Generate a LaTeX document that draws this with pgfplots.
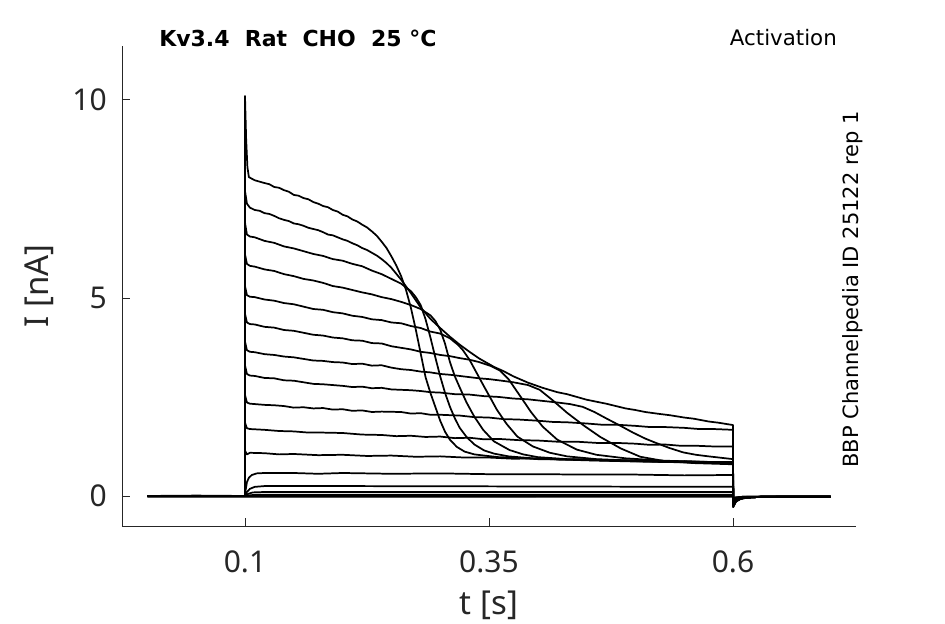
\documentclass[border=0pt]{standalone}
\usepackage{fontspec}
\setmainfont{Noto Sans}
\newfontfamily\dejavu{DejaVu Sans}
\usepackage{pgfplots}
\pgfplotsset{compat=1.18}
\definecolor{axgray}{HTML}{262626}
\pgfplotsset{tr/.style={draw=black, solid, line width=1.3pt, line join=round, mark=none}}
\begin{document}
\begin{tikzpicture}
\useasboundingbox (-91.5pt,-73.5pt) rectangle (617.25pt,394.5pt);
\begin{axis}[
 at={(0,0)}, anchor=south west,
 scale only axis, width=550.5pt, height=360pt,
 xmin=-0.026, xmax=0.726, ymin=-0.758, ymax=11.36,
 axis x line*=bottom, axis y line*=left,
 axis line style={-, draw=axgray, line width=0.6pt},
 xtick={0.1,0.35,0.6}, ytick={0,5,10},
 xticklabels={0.1,0.35,0.6}, yticklabels={0,5,10},
 tick align=inside, major tick length=6pt,
 tick style={draw=axgray, line width=0.6pt},
 /pgf/number format/assume math mode=true,
 ticklabel style={font=\fontsize{22.5}{27}\selectfont, text=axgray, inner sep=0pt},
 xticklabel style={anchor=base, yshift=-34.5pt},
 yticklabel style={anchor=east, xshift=-11.25pt},
]
% T1
\addplot[tr] coordinates {(0,0) (0.05,0.01) (0.0999,0) (0.1,10.1) (0.1012,9.0) (0.1025,8.3) (0.104,8.05) (0.11,7.97) (0.12,7.9) (0.125,7.87) (0.13,7.8) (0.135,7.78) (0.14,7.72) (0.145,7.68) (0.15,7.6) (0.155,7.58) (0.16,7.52) (0.165,7.49) (0.17,7.42) (0.175,7.38) (0.18,7.32) (0.185,7.29) (0.19,7.22) (0.195,7.18) (0.2,7.1) (0.205,7.06) (0.21,6.98) (0.215,6.93) (0.22,6.85) (0.225,6.78) (0.23,6.68) (0.235,6.57) (0.24,6.42) (0.245,6.26) (0.25,6.05) (0.255,5.82) (0.26,5.55) (0.265,5.2) (0.27,4.75) (0.275,4.2) (0.28,3.6) (0.285,3.0) (0.29,2.6) (0.295,2.25) (0.30,1.9) (0.305,1.62) (0.31,1.42) (0.317,1.24) (0.325,1.12) (0.335,1.05) (0.345,1.02) (0.36,0.98) (0.38,0.96) (0.4,0.93) (0.43,0.92) (0.46,0.9) (0.5,0.88) (0.55,0.86) (0.6,0.85) (0.6002,-0.28) (0.603,-0.14) (0.608,-0.07) (0.615,-0.04) (0.63,-0.02) (0.7,-0.02)};
% T2
\addplot[tr] coordinates {(0,0) (0.0999,0) (0.1,7.7) (0.102,7.38) (0.105,7.28) (0.11,7.22) (0.115,7.2) (0.12,7.14) (0.125,7.12) (0.13,7.07) (0.135,7.01) (0.14,6.97) (0.145,6.94) (0.15,6.88) (0.155,6.86) (0.16,6.82) (0.165,6.77) (0.17,6.74) (0.175,6.71) (0.18,6.66) (0.185,6.6) (0.19,6.58) (0.195,6.53) (0.2,6.48) (0.205,6.44) (0.21,6.38) (0.215,6.33) (0.22,6.26) (0.225,6.21) (0.23,6.14) (0.235,6.07) (0.24,5.98) (0.245,5.88) (0.25,5.76) (0.26,5.46) (0.27,5.12) (0.28,4.76) (0.29,4.47) (0.30,4.24) (0.31,4.02) (0.32,3.82) (0.33,3.64) (0.34,3.47) (0.355,3.26) (0.365,3.15) (0.375,3.02) (0.39,2.86) (0.405,2.73) (0.42,2.62) (0.43,2.57) (0.44,2.5) (0.45,2.43) (0.46,2.38) (0.47,2.33) (0.48,2.27) (0.49,2.21) (0.5,2.17) (0.51,2.12) (0.525,2.07) (0.535,2.04) (0.55,1.98) (0.56,1.95) (0.575,1.88) (0.585,1.85) (0.6,1.79) (0.6002,-0.28) (0.603,-0.14) (0.608,-0.07) (0.615,-0.04) (0.63,-0.02) (0.7,-0.02)};
% T3
\addplot[tr] coordinates {(0,0) (0.0999,0) (0.1,6.9) (0.102,6.6) (0.105,6.55) (0.11,6.53) (0.12,6.44) (0.13,6.39) (0.14,6.3) (0.15,6.25) (0.16,6.18) (0.17,6.11) (0.18,6.06) (0.19,5.98) (0.2,5.94) (0.21,5.86) (0.22,5.8) (0.23,5.69) (0.24,5.6) (0.25,5.48) (0.26,5.36) (0.27,5.17) (0.275,5.02) (0.28,4.82) (0.285,4.46) (0.29,4.0) (0.295,3.5) (0.3,3.02) (0.305,2.6) (0.31,2.25) (0.315,1.96) (0.32,1.72) (0.327,1.49) (0.335,1.3) (0.345,1.15) (0.355,1.07) (0.37,1.0) (0.4,0.94) (0.45,0.9) (0.5,0.87) (0.55,0.85) (0.6,0.83) (0.6002,-0.26) (0.603,-0.13) (0.608,-0.07) (0.615,-0.04) (0.63,-0.02) (0.7,-0.02)};
% T4
\addplot[tr] coordinates {(0,0) (0.0999,0) (0.1,6.1) (0.102,5.86) (0.105,5.81) (0.11,5.79) (0.12,5.72) (0.13,5.68) (0.14,5.6) (0.15,5.55) (0.16,5.48) (0.17,5.44) (0.18,5.38) (0.19,5.3) (0.2,5.26) (0.21,5.2) (0.22,5.14) (0.23,5.09) (0.24,5.02) (0.25,4.97) (0.26,4.9) (0.27,4.82) (0.28,4.72) (0.29,4.56) (0.295,4.42) (0.3,4.2) (0.305,3.84) (0.31,3.38) (0.315,3.02) (0.32,2.74) (0.327,2.36) (0.335,2.0) (0.344,1.67) (0.355,1.38) (0.371,1.16) (0.385,1.05) (0.4,0.98) (0.43,0.93) (0.47,0.9) (0.52,0.87) (0.6,0.83) (0.6002,-0.25) (0.603,-0.13) (0.608,-0.07) (0.615,-0.04) (0.63,-0.02) (0.7,-0.02)};
% T5
\addplot[tr] coordinates {(0,0) (0.0999,0) (0.1,5.3) (0.102,5.07) (0.105,5.03) (0.11,5.02) (0.12,4.96) (0.13,4.93) (0.14,4.87) (0.15,4.84) (0.16,4.78) (0.17,4.72) (0.18,4.7) (0.19,4.64) (0.2,4.61) (0.21,4.55) (0.22,4.52) (0.23,4.46) (0.24,4.44) (0.25,4.38) (0.26,4.36) (0.27,4.29) (0.28,4.24) (0.29,4.15) (0.3,4.1) (0.31,3.98) (0.318,3.82) (0.323,3.69) (0.33,3.44) (0.3375,3.1) (0.345,2.76) (0.352,2.45) (0.358,2.18) (0.368,1.82) (0.379,1.5) (0.395,1.25) (0.4125,1.09) (0.43,1.0) (0.46,0.93) (0.5,0.89) (0.55,0.86) (0.6,0.84) (0.6002,-0.25) (0.603,-0.12) (0.608,-0.06) (0.615,-0.04) (0.63,-0.02) (0.7,-0.02)};
% T6
\addplot[tr] coordinates {(0,0) (0.0999,0) (0.1,4.6) (0.102,4.38) (0.105,4.34) (0.11,4.33) (0.12,4.27) (0.13,4.25) (0.14,4.19) (0.15,4.17) (0.16,4.12) (0.17,4.07) (0.18,4.05) (0.19,4.0) (0.2,3.98) (0.21,3.93) (0.22,3.92) (0.23,3.86) (0.24,3.85) (0.25,3.78) (0.26,3.74) (0.27,3.7) (0.28,3.64) (0.29,3.61) (0.3,3.56) (0.31,3.53) (0.32,3.48) (0.33,3.44) (0.34,3.38) (0.352,3.28) (0.361,3.17) (0.37,2.95) (0.382,2.52) (0.393,2.12) (0.405,1.75) (0.42,1.42) (0.44,1.17) (0.46,1.04) (0.49,0.95) (0.53,0.89) (0.6,0.84) (0.6002,-0.24) (0.603,-0.12) (0.608,-0.06) (0.615,-0.04) (0.63,-0.02) (0.7,-0.02)};
% T7
\addplot[tr] coordinates {(0,0) (0.0999,0) (0.1,3.9) (0.102,3.68) (0.105,3.64) (0.11,3.63) (0.12,3.58) (0.13,3.56) (0.14,3.52) (0.15,3.5) (0.16,3.46) (0.17,3.42) (0.18,3.41) (0.19,3.38) (0.2,3.37) (0.21,3.33) (0.22,3.34) (0.23,3.29) (0.24,3.3) (0.25,3.24) (0.26,3.2) (0.27,3.18) (0.28,3.14) (0.29,3.12) (0.3,3.08) (0.31,3.06) (0.32,3.03) (0.33,3.0) (0.34,2.97) (0.35,2.95) (0.36,2.92) (0.375,2.87) (0.39,2.8) (0.402,2.68) (0.415,2.42) (0.43,2.1) (0.447,1.78) (0.464,1.49) (0.485,1.2) (0.505,0.99) (0.53,0.88) (0.56,0.83) (0.6,0.8) (0.6002,-0.24) (0.603,-0.12) (0.608,-0.06) (0.615,-0.04) (0.63,-0.02) (0.7,-0.02)};
% T8
\addplot[tr] coordinates {(0,0) (0.0999,0) (0.1,3.3) (0.102,3.08) (0.105,3.04) (0.11,3.03) (0.12,2.98) (0.13,2.97) (0.14,2.92) (0.15,2.91) (0.16,2.87) (0.17,2.83) (0.18,2.82) (0.19,2.8) (0.2,2.78) (0.21,2.75) (0.22,2.76) (0.23,2.72) (0.24,2.73) (0.25,2.69) (0.26,2.68) (0.27,2.67) (0.28,2.65) (0.29,2.62) (0.3,2.61) (0.315,2.57) (0.33,2.56) (0.345,2.52) (0.36,2.5) (0.375,2.46) (0.39,2.44) (0.405,2.4) (0.42,2.36) (0.433,2.32) (0.446,2.25) (0.458,2.12) (0.47,1.96) (0.484,1.78) (0.4975,1.6) (0.51,1.45) (0.52,1.35) (0.535,1.21) (0.549,1.1) (0.562,1.04) (0.575,1.0) (0.6,0.93) (0.6002,-0.23) (0.603,-0.12) (0.608,-0.06) (0.615,-0.04) (0.63,-0.02) (0.7,-0.02)};
% T9
\addplot[tr] coordinates {(0,0) (0.0999,0) (0.1,2.55) (0.102,2.36) (0.105,2.33) (0.12,2.3) (0.13,2.29) (0.14,2.27) (0.15,2.23) (0.16,2.24) (0.17,2.21) (0.18,2.22) (0.19,2.18) (0.2,2.19) (0.21,2.15) (0.22,2.16) (0.23,2.12) (0.24,2.13) (0.26,2.12) (0.27,2.08) (0.28,2.09) (0.29,2.05) (0.3,2.05) (0.32,2.03) (0.335,1.99) (0.35,1.98) (0.365,1.94) (0.38,1.93) (0.4,1.9) (0.415,1.87) (0.43,1.86) (0.45,1.83) (0.465,1.8) (0.48,1.8) (0.5,1.77) (0.515,1.74) (0.53,1.74) (0.55,1.72) (0.565,1.69) (0.58,1.69) (0.6,1.67) (0.6002,-0.22) (0.603,-0.11) (0.608,-0.06) (0.615,-0.04) (0.63,-0.02) (0.7,-0.02)};
% T10
\addplot[tr] coordinates {(0,0) (0.0999,0) (0.1,1.85) (0.102,1.71) (0.105,1.69) (0.12,1.67) (0.135,1.64) (0.15,1.63) (0.165,1.6) (0.18,1.6) (0.2,1.59) (0.22,1.55) (0.24,1.54) (0.255,1.51) (0.27,1.52) (0.285,1.49) (0.3,1.5) (0.315,1.46) (0.33,1.47) (0.345,1.43) (0.36,1.44) (0.38,1.41) (0.4,1.4) (0.42,1.37) (0.44,1.37) (0.46,1.34) (0.48,1.34) (0.5,1.32) (0.515,1.29) (0.53,1.3) (0.545,1.27) (0.56,1.27) (0.58,1.25) (0.6,1.25) (0.6002,-0.2) (0.603,-0.1) (0.608,-0.05) (0.615,-0.03) (0.63,-0.02) (0.7,-0.02)};
% T11
\addplot[tr] coordinates {(0,0) (0.0999,0) (0.1,1.15) (0.102,1.05) (0.105,1.09) (0.12,1.08) (0.135,1.05) (0.15,1.06) (0.175,1.03) (0.2,1.04) (0.225,1.01) (0.25,1.02) (0.275,0.99) (0.3,1.0) (0.325,0.97) (0.35,0.97) (0.375,0.94) (0.4,0.95) (0.425,0.92) (0.45,0.93) (0.475,0.9) (0.5,0.9) (0.525,0.87) (0.55,0.88) (0.575,0.86) (0.6,0.86) (0.6002,-0.18) (0.603,-0.09) (0.608,-0.05) (0.615,-0.03) (0.63,-0.02) (0.7,-0.02)};
% T12
\addplot[tr] coordinates {(0,0) (0.0999,0) (0.1,0.05) (0.101,0.2) (0.102,0.35) (0.104,0.46) (0.107,0.53) (0.112,0.57) (0.12,0.58) (0.15,0.58) (0.175,0.56) (0.2,0.58) (0.25,0.56) (0.3,0.57) (0.35,0.55) (0.4,0.55) (0.45,0.54) (0.5,0.54) (0.55,0.52) (0.6,0.53) (0.6002,-0.15) (0.603,-0.08) (0.608,-0.04) (0.615,-0.03) (0.63,-0.02) (0.7,-0.02)};
% T13
\addplot[tr] coordinates {(0,0) (0.0999,0) (0.1,0.02) (0.102,0.1) (0.105,0.18) (0.11,0.23) (0.12,0.25) (0.2,0.25) (0.4,0.24) (0.6,0.23) (0.6002,-0.12) (0.603,-0.06) (0.608,-0.04) (0.615,-0.03) (0.63,-0.02) (0.7,-0.02)};
% T14
\addplot[tr] coordinates {(0,0) (0.0999,0) (0.1,0.01) (0.103,0.05) (0.108,0.09) (0.12,0.1) (0.6,0.1) (0.6002,-0.1) (0.605,-0.05) (0.615,-0.03) (0.7,-0.02)};
% T15
\addplot[tr] coordinates {(0,0) (0.0999,0) (0.1,0) (0.11,0.03) (0.6,0.03) (0.6002,-0.08) (0.605,-0.04) (0.615,-0.02) (0.7,-0.02)};
% T16
\addplot[tr] coordinates {(0,0) (0.0999,0) (0.11,0.01) (0.6,0.01) (0.6002,-0.06) (0.61,-0.02) (0.7,-0.01)};
% T17
\addplot[tr] coordinates {(0,-0.01) (0.1,-0.01) (0.6,0) (0.6002,-0.05) (0.61,-0.02) (0.7,-0.01)};
% T18
\addplot[tr] coordinates {(0,-0.02) (0.1,-0.02) (0.6,-0.02) (0.6002,-0.04) (0.61,-0.02) (0.7,-0.02)};
\end{axis}
\node[anchor=base west, inner sep=0pt, font=\dejavu\bfseries\fontsize{16.5}{19}\selectfont] at (27.75pt,359.25pt) {Kv3.4\ \ Rat\ \ CHO\ \ 25 °C};
\node[anchor=base east, inner sep=0pt, font=\dejavu\fontsize{16}{19}\selectfont] at (536.25pt,360pt) {Activation};
\node[anchor=base west, inner sep=0pt, rotate=90, font=\dejavu\fontsize{15.75}{19}\selectfont] at (552pt,43.5pt) {BBP Channelpedia ID 25122 rep 1};
\node[anchor=base, inner sep=0pt, text=axgray, font=\fontsize{24.75}{30}\selectfont] at (275.25pt,-66.75pt) {t [s]};
\node[anchor=base, inner sep=0pt, rotate=90, text=axgray, font=\fontsize{24.75}{30}\selectfont] at (-55pt,180pt) {I [nA]};
\end{tikzpicture}
\end{document}
